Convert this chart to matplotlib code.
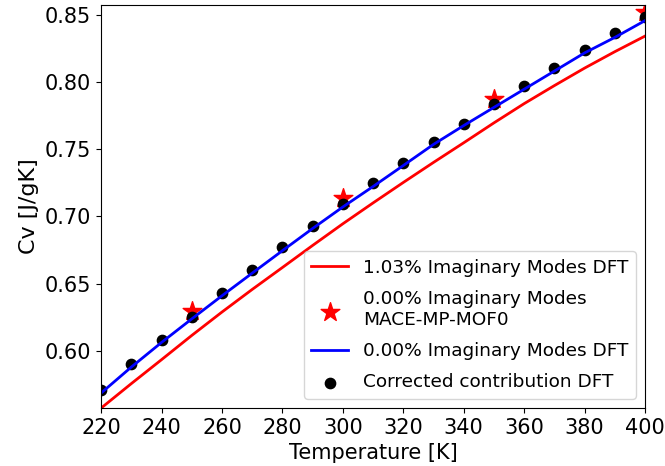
import matplotlib

matplotlib.use("Agg")
import matplotlib.pyplot as plt

# temperatures (K)
temps = [220, 230, 240, 250, 260, 270, 280, 290, 300, 310,
         320, 330, 340, 350, 360, 370, 380, 390, 400]

# Cv curves, J/gK
cv_dft_imag = [0.5575, 0.5757, 0.5935, 0.6115, 0.6289, 0.6457, 0.6620, 0.6784,
               0.6945, 0.7100, 0.7252, 0.7401, 0.7547, 0.7695, 0.7838, 0.7972,
               0.8102, 0.8224, 0.8340]
cv_dft_clean = [0.5687, 0.5880, 0.6063, 0.6238, 0.6410, 0.6578, 0.6745, 0.6910,
                0.7070, 0.7222, 0.7378, 0.7535, 0.7675, 0.7810, 0.7945, 0.8080,
                0.8215, 0.8330, 0.8455]
cv_corrected = [0.5707, 0.5900, 0.6083, 0.6255, 0.6433, 0.6600, 0.6770, 0.6930,
                0.7095, 0.7245, 0.7400, 0.7550, 0.7688, 0.7835, 0.7970, 0.8100,
                0.8233, 0.8365, 0.8480]

# MACE-MP-MOF0 points
mace_temps = [250, 300, 350, 400]
cv_mace = [0.6300, 0.7133, 0.7875, 0.8520]

fig = plt.figure(figsize=(6.65, 4.66), dpi=100)
ax = fig.add_axes([0.152, 0.1245, 0.818, 0.8645])

ax.plot(temps, cv_dft_imag, color="red", linewidth=2,
        label="1.03% Imaginary Modes DFT")
ax.scatter(mace_temps, cv_mace, marker="*", color="red", s=200,
           label="0.00% Imaginary Modes\nMACE-MP-MOF0")
ax.plot(temps, cv_dft_clean, color="blue", linewidth=2,
        label="0.00% Imaginary Modes DFT")
ax.scatter(temps, cv_corrected, color="black", s=55,
           label="Corrected contribution DFT")

ax.set_xlim(220, 400)
ax.set_ylim(0.5576, 0.857)
ax.set_xticks(range(220, 401, 20))
ax.set_yticks([0.60, 0.65, 0.70, 0.75, 0.80, 0.85])
ax.tick_params(labelsize=15)
ax.set_xlabel("Temperature [K]", fontsize=15)
ax.set_ylabel("Cv [J/gK]", fontsize=16)
ax.legend(loc="lower right", fontsize=13.3, labelspacing=0.72)

fig.savefig("out.png", dpi=100)
